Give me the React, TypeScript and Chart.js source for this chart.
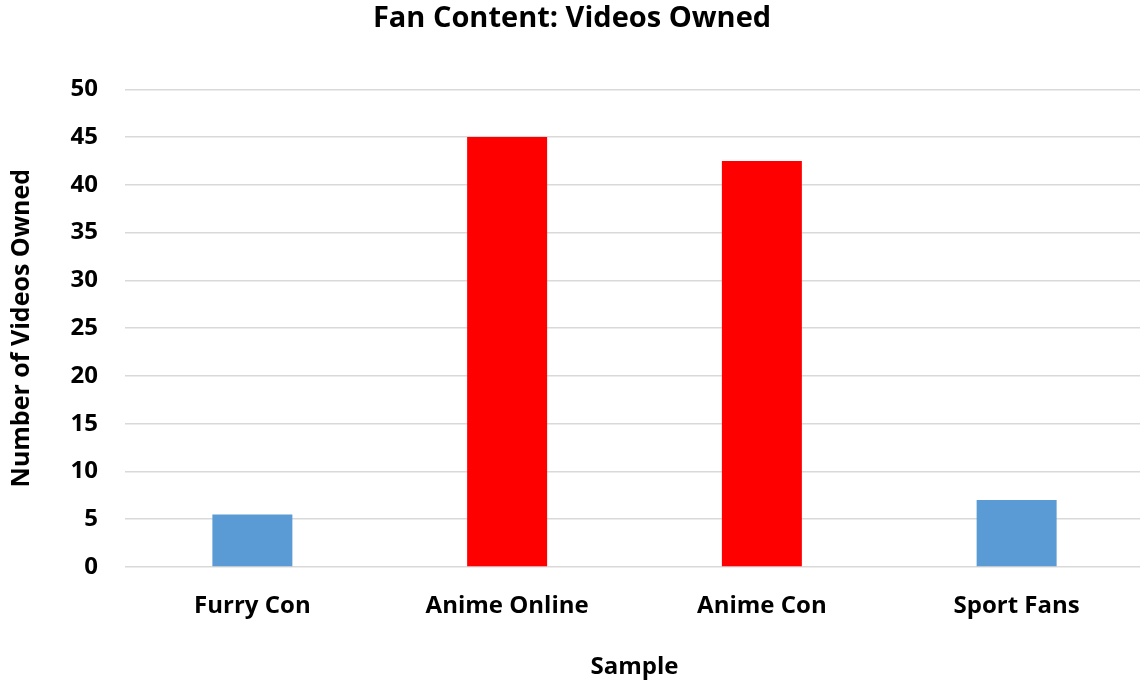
import React, { useEffect, useRef } from "react";
import { Chart, registerables } from "chart.js";

Chart.register(...registerables);

const categories = ["Furry Con", "Anime Online", "Anime Con", "Sport Fans"];
const videosOwned = [5.5, 45, 42.5, 7];
const barColors = ["#5B9BD5", "#FF0000", "#FF0000", "#5B9BD5"];
const chartTitle = "Fan Content: Videos Owned";
const yAxisTitle = "Number of Videos Owned";
const xAxisTitle = "Sample";

const FONT = "'Open Sans', sans-serif";

export default function App() {
  const ref = useRef<HTMLCanvasElement | null>(null);

  useEffect(() => {
    if (!ref.current) return;
    const chart = new Chart(ref.current, {
      type: "bar",
      data: {
        labels: categories,
        datasets: [
          {
            data: videosOwned,
            backgroundColor: barColors,
            borderWidth: 0,
            barPercentage: 0.314,
            categoryPercentage: 1,
          },
        ],
      },
      options: {
        responsive: false,
        animation: false,
        layout: { padding: { left: 0, right: 0, top: 0, bottom: 0 } },
        plugins: {
          legend: { display: false },
          tooltip: { enabled: false },
          title: {
            display: true,
            text: chartTitle,
            color: "#000",
            font: { family: FONT, size: 29, weight: "bold" },
            padding: { top: 1, bottom: 53.5 },
          },
        },
        scales: {
          x: {
            grid: { display: false, drawTicks: false },
            border: { display: false },
            ticks: {
              color: "#000",
              padding: 25,
              maxRotation: 0,
              font: { family: FONT, size: 24, weight: "bold" },
            },
            title: {
              display: true,
              text: xAxisTitle,
              color: "#000",
              font: { family: FONT, size: 24, weight: "bold" },
              padding: { top: 30, bottom: 4 },
            },
            afterFit: (scale: any) => {
              scale.height = 119;
            },
          },
          y: {
            min: 0,
            max: 50,
            grid: { color: "#D9D9D9", lineWidth: 1.5, drawTicks: false },
            border: { display: false },
            ticks: {
              stepSize: 5,
              color: "#000",
              padding: 27,
              font: { family: FONT, size: 24, weight: "bold" },
            },
            title: {
              display: true,
              text: yAxisTitle,
              color: "#000",
              font: { family: FONT, size: 25, weight: "bold" },
              padding: { top: 7, bottom: 0 },
            },
            afterFit: (scale: any) => {
              scale.width = 125;
            },
          },
        },
      },
    });
    return () => chart.destroy();
  }, []);

  return (
    <div style={{ position: "fixed", left: 0, top: 0, width: 1140, height: 686, overflow: "hidden", background: "#fff" }}>
      <canvas ref={ref} width={1144} height={686} style={{ display: "block" }} />
    </div>
  );
}
